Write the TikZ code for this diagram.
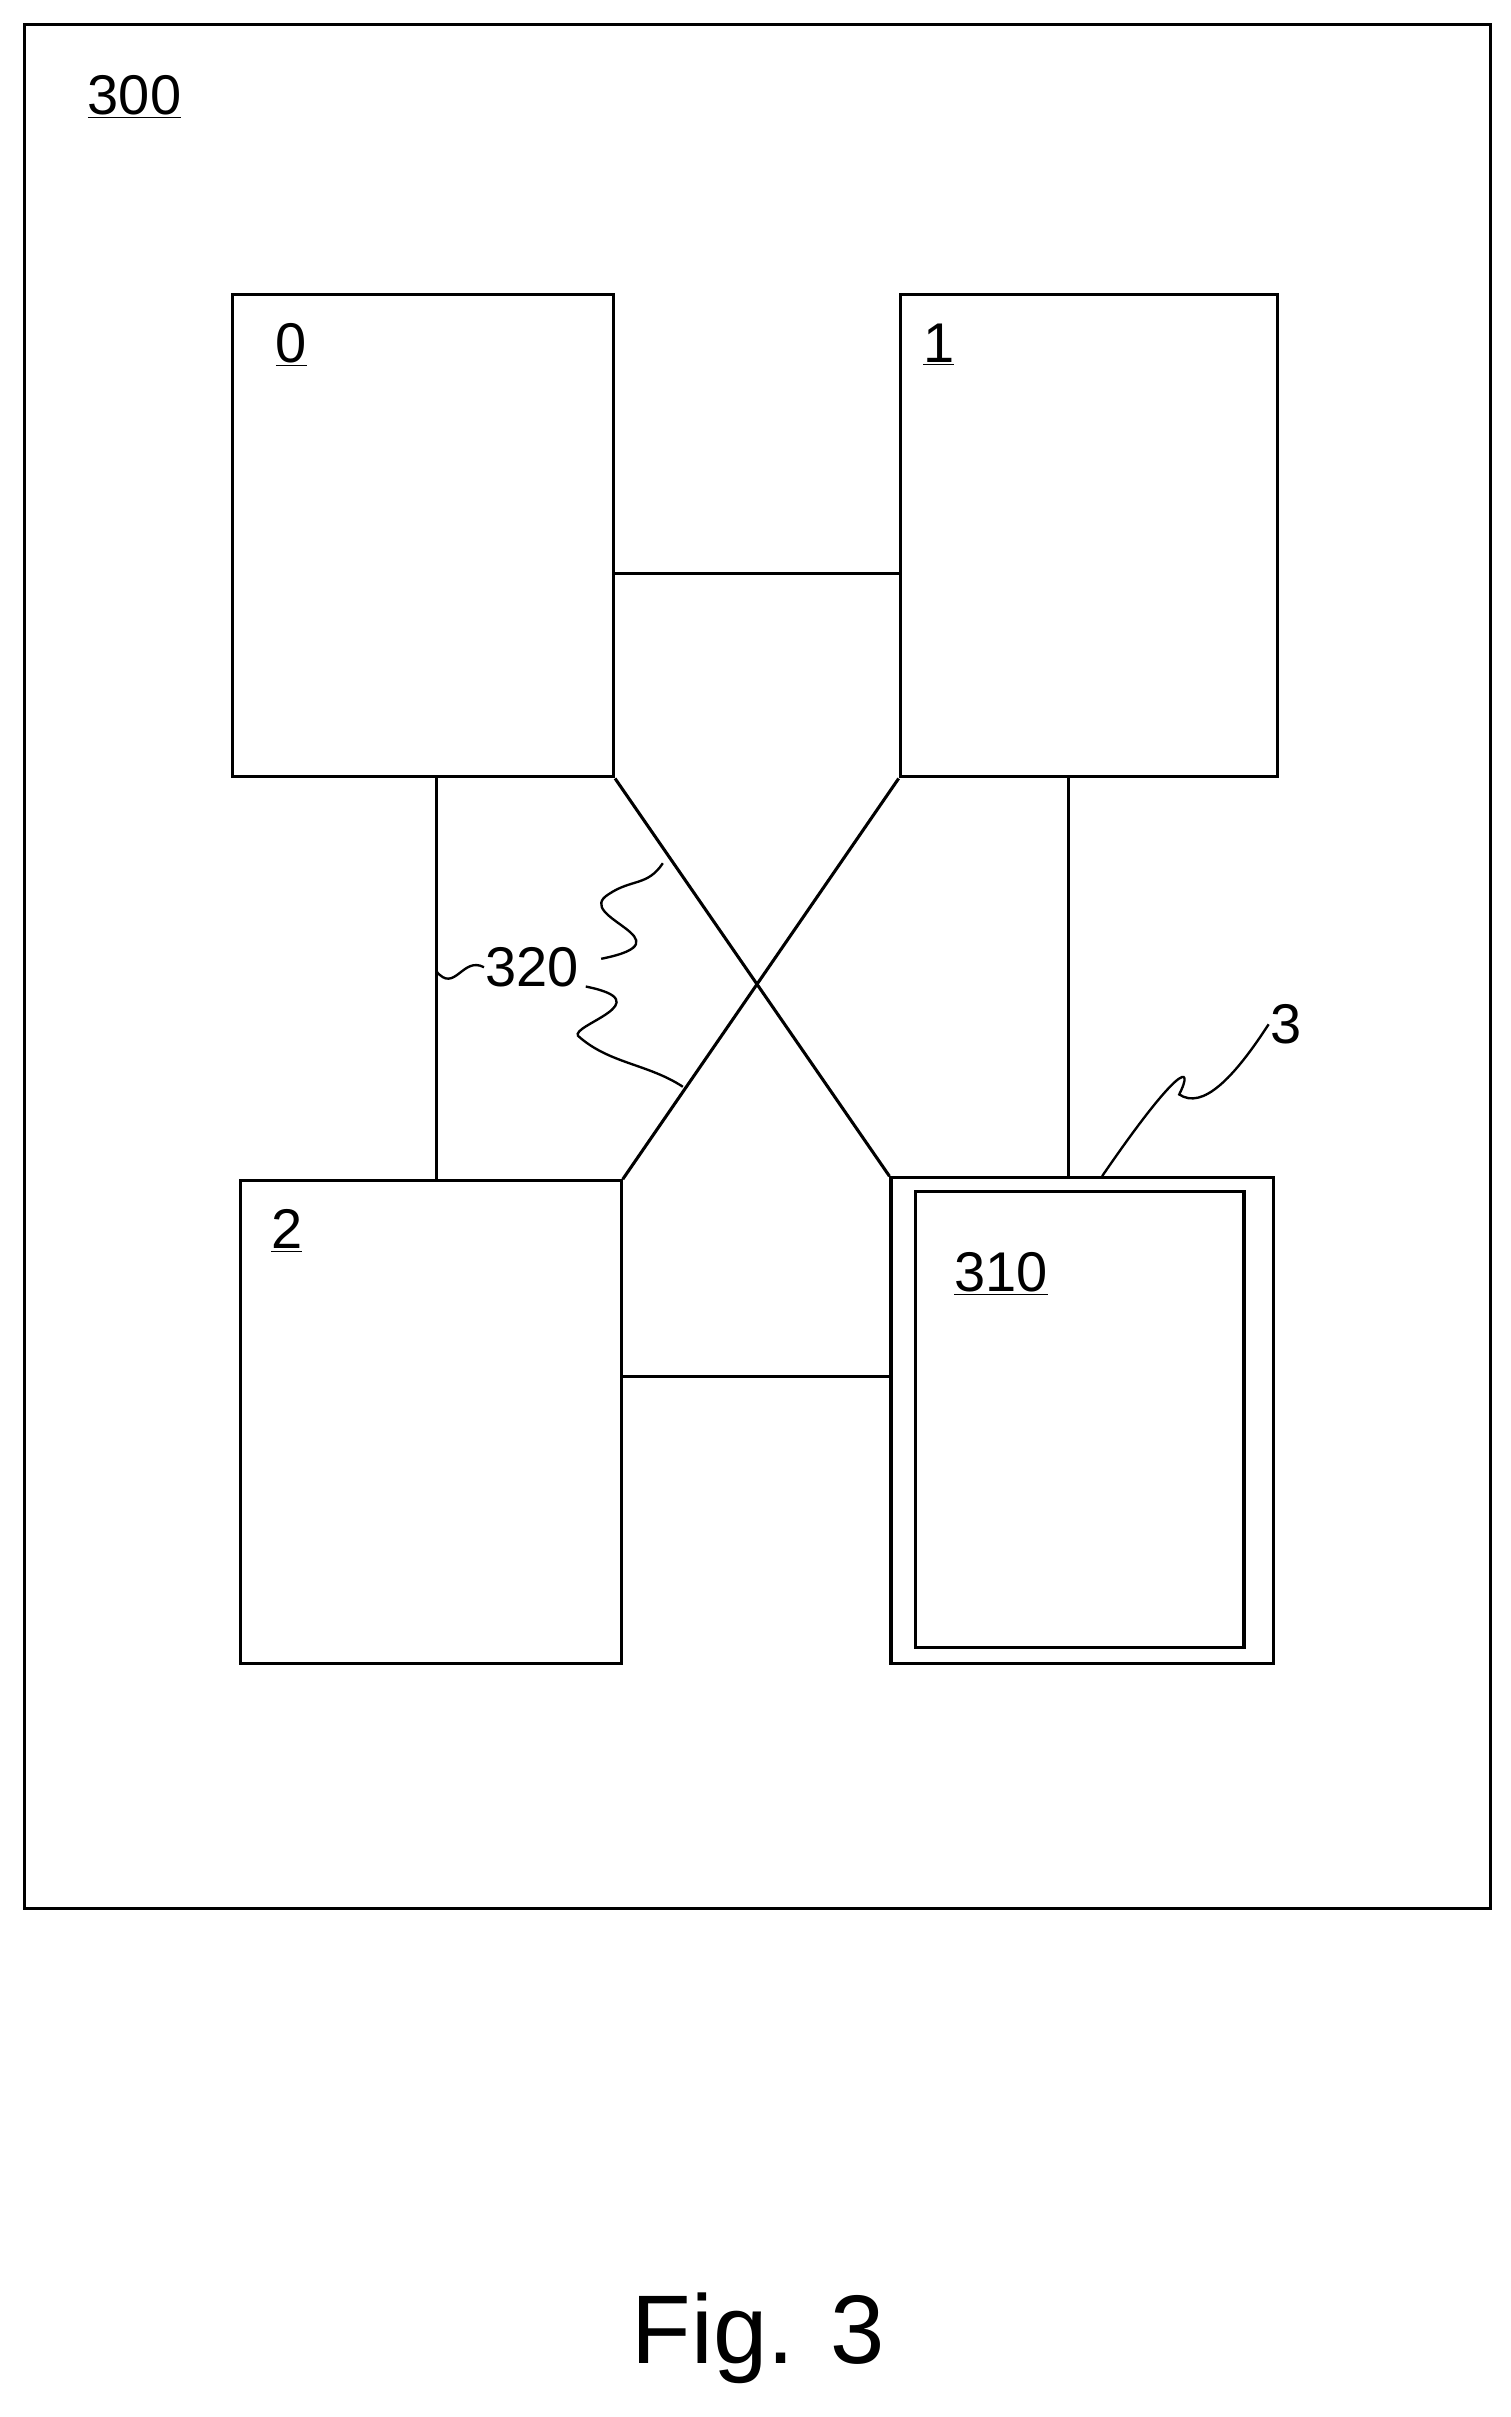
\documentclass[tikz,border=0pt]{standalone}
\usepackage{fontspec}
\setmainfont{Liberation Sans}
\begin{document}
\begin{tikzpicture}[x=0.03cm,y=-0.03cm,line width=1.7pt]
\tikzset{
  unit/.style={draw,rectangle,anchor=north west,inner sep=0pt,minimum width=7.41cm,minimum height=9.39cm},
  lbl/.style={inner sep=0pt,anchor=base west,font=\fontsize{31}{36}\selectfont}
}
\useasboundingbox (0,0) rectangle (980,1568);
% frame
\node[draw,rectangle,anchor=north west,inner sep=0pt,minimum width=28.53cm,minimum height=36.66cm] (frame) at (15,15) {};
\node[lbl] (l300) at (56,74) {\underline{300}};
% units
\node[unit] (n0) at (150,190) {};
\node[unit,minimum width=7.35cm] (n1) at (583,190) {};
\node[unit] (n2) at (155,765) {};
\node[unit,minimum width=7.44cm,minimum height=9.45cm] (n3) at (577,763) {};
\node[unit,minimum width=6.39cm,minimum height=8.88cm] (n3in) at (593,772) {};
\node[lbl] at (178,235) {\underline{0}};
\node[lbl] at (598,235) {\underline{1}};
\node[lbl] at (175,810) {\underline{2}};
\node[lbl] (l310) at (618,838) {\underline{310}};
% links
\draw (n0.east |- 0,372) -- (n1.west |- 0,372);
\draw (n2.east |- 0,893) -- (n3.west |- 0,893);
\draw (n0.south -| 283,0) -- (n2.north -| 283,0);
\draw (n1.south -| 693,0) -- (n3.north -| 693,0);
\draw (n0.south east) -- (n3.north west);
\draw (n1.south west) -- (n2.north east);
% reference signs
\node[lbl] (l320) at (314,640) {320};
\draw[line width=1.3pt] (l320.west) .. controls (300,620) and (295,645) .. (283,630);
\draw[line width=1.3pt] (390,622) .. controls (450,610) and (370,595) .. (395,580) .. controls (410,570) and (420,575) .. (430,560);
\draw[line width=1.3pt] (380,640) .. controls (430,650) and (370,665) .. (375,672) .. controls (395,690) and (420,690) .. (443,705);
\node[lbl] (l3) at (823,677) {3};
\draw[line width=1.3pt] (l3.west) .. controls (800,700) and (780,720) .. (765,710) .. controls (775,690) and (765,690) .. (715,763);
\node[inner sep=0pt,font=\fontsize{54}{60}\selectfont] (cap) at (492,1517) {Fig. 3};
\end{tikzpicture}
\end{document}
